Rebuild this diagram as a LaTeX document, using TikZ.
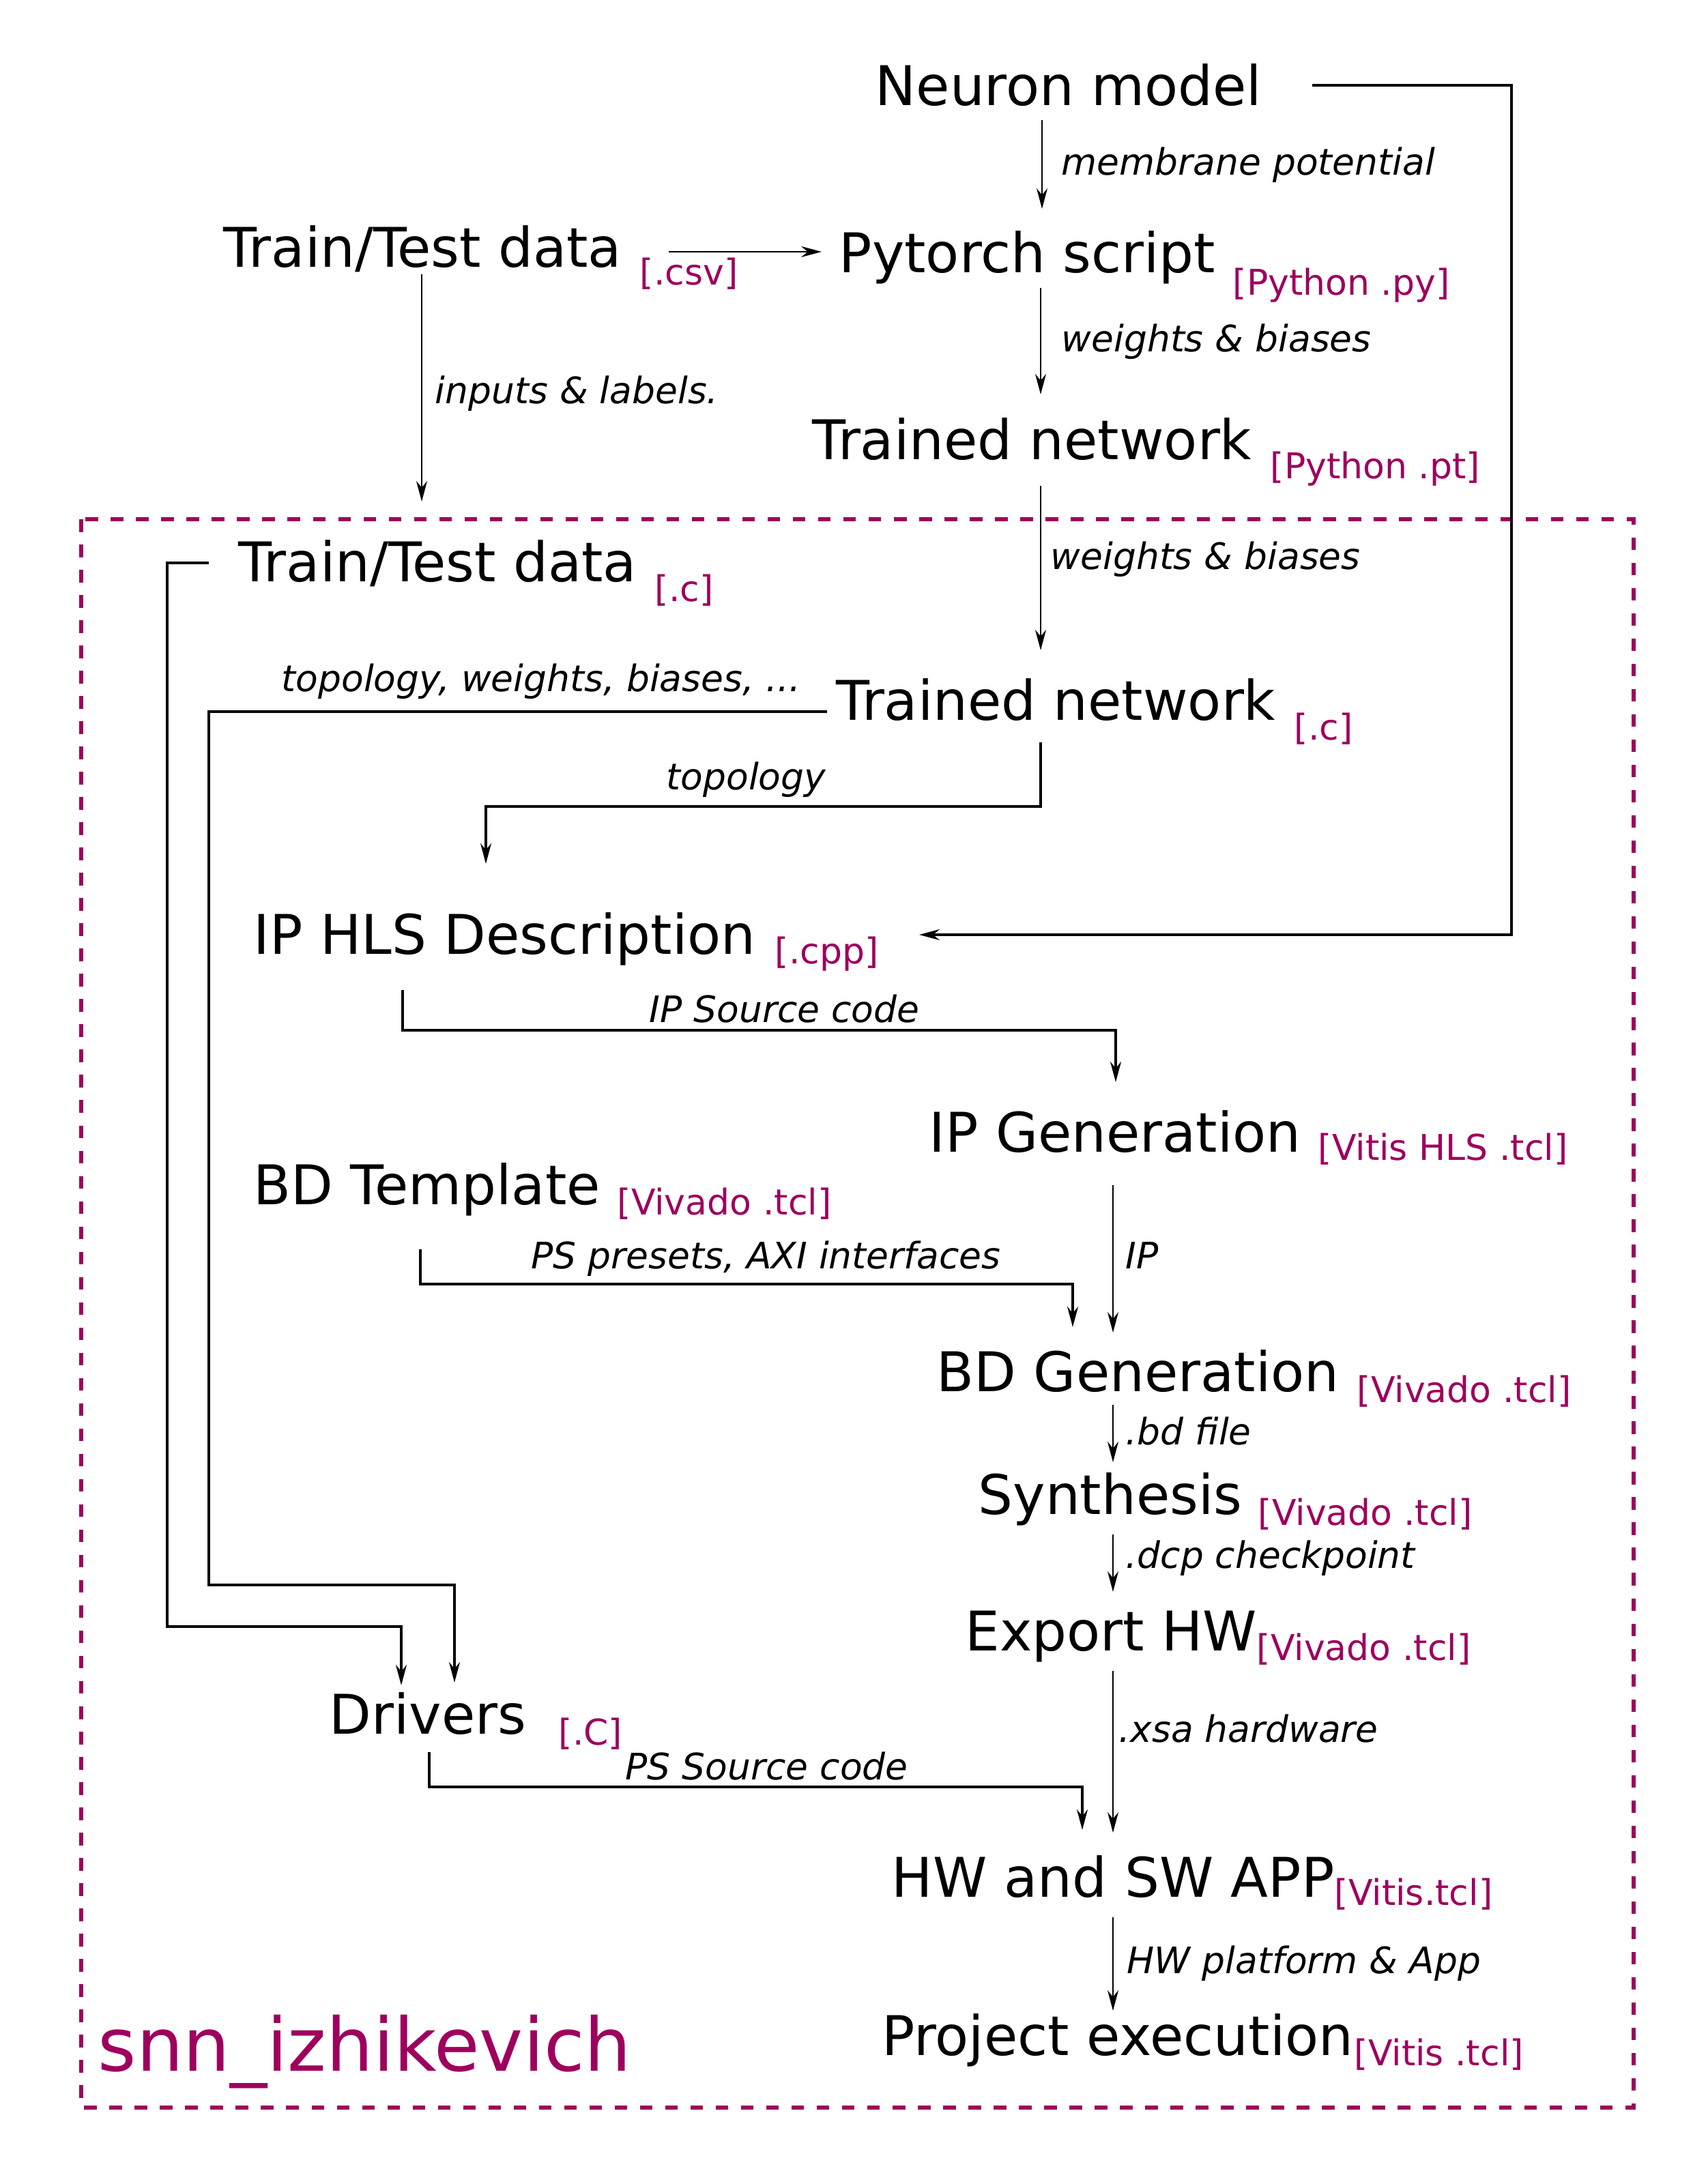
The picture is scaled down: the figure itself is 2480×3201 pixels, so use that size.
\documentclass[tikz,border=0pt]{standalone}
\usepackage{fontspec}
\setmainfont{DejaVu Sans}
\usetikzlibrary{arrows.meta}
\definecolor{snnpurple}{HTML}{9E005D}

\tikzset{
  stage/.style={anchor=base west, inner sep=0pt, font=\fontsize{22.8}{27}\selectfont},
  ftype/.style={anchor=base west, inner sep=0pt, text=snnpurple, font=\fontsize{14.8}{18}\selectfont},
  flow/.style={anchor=base west, inner sep=0pt, font=\fontsize{15.2}{18}\selectfont\itshape},
  arr/.style={line width=0.5pt, -{Stealth[length=0.3cm,width=0.16cm]}},
  wire/.style={line width=0.9pt, -{Stealth[length=0.3cm,width=0.16cm]}},
}

\begin{document}
\begin{tikzpicture}[x=0.01cm, y=-0.01cm]
  \useasboundingbox (0,0) rectangle (2480,3201);

  % progetto
  \draw[snnpurple, line width=0.065cm, dash pattern=on 0.185cm off 0.185cm]
    (119,761) rectangle (2394,3089);
  \node[anchor=base west, inner sep=0pt, text=snnpurple, font=\fontsize{30.8}{36}\selectfont]
    (prj) at (143,3035) {snn\_izhikevich};

  % parte software
  \node[stage] (neuron) at (1282,155) {Neuron model};
  \node[stage] (data) at (327,392) {Train/Test data};
  \node[ftype] (data-t) at (937,418) {[.csv]};
  \node[stage] (torch) at (1229,400) {Pytorch script};
  \node[ftype] (torch-t) at (1806,433) {[Python .py]};
  \node[stage] (net) at (1190,674) {Trained network};
  \node[ftype] (net-t) at (1861,702) {[Python .pt]};

  % parte hardware
  \node[stage] (cdata) at (349,853) {Train/Test data};
  \node[ftype] (cdata-t) at (959,882) {[.c]};
  \node[stage] (cnet) at (1225,1055) {Trained network};
  \node[ftype] (cnet-t) at (1896,1084) {[.c]};
  \node[stage] (hls) at (371,1398) {IP HLS Description};
  \node[ftype] (hls-t) at (1135,1412) {[.cpp]};
  \node[stage] (ipgen) at (1361,1688) {IP Generation};
  \node[ftype] (ipgen-t) at (1931,1700) {[Vitis HLS .tcl]};
  \node[stage] (bdt) at (371,1765) {BD Template};
  \node[ftype] (bdt-t) at (904,1780) {[Vivado .tcl]};
  \node[stage] (bdgen) at (1372,2039) {BD Generation};
  \node[ftype] (bdgen-t) at (1988,2055) {[Vivado .tcl]};
  \node[stage] (synth) at (1433,2219) {Synthesis};
  \node[ftype] (synth-t) at (1843,2235) {[Vivado .tcl]};
  \node[stage] (export) at (1414,2419) {Export HW};
  \node[ftype] (export-t) at (1841,2433) {[Vivado .tcl]};
  \node[stage] (drivers) at (482,2541) {Drivers};
  \node[ftype] (drivers-t) at (818,2557) {[.C]};
  \node[stage] (app) at (1306,2780) {HW and SW APP};
  \node[ftype] (app-t) at (1955,2792) {[Vitis.tcl]};
  \node[stage] (run) at (1292,3012) {Project execution};
  \node[ftype] (run-t) at (1984,3027) {[Vitis .tcl]};

  % etichette dei flussi
  \node[flow] (l-mem) at (1555,257) {membrane potential};
  \node[flow] (l-wb1) at (1555,516) {weights \& biases};
  \node[flow] (l-in) at (637,592) {inputs \& labels.};
  \node[flow] (l-wb2) at (1539,835) {weights \& biases};
  \node[flow] (l-twb) at (412,1014) {topology, weights, biases, ...};
  \node[flow] (l-top) at (976,1157) {topology};
  \node[flow] (l-src) at (951,1498) {IP Source code};
  \node[flow] (l-ip) at (1649,1859) {IP};
  \node[flow] (l-axi) at (778,1859) {PS presets, AXI interfaces};
  \node[flow] (l-bd) at (1649,2117) {.bd file};
  \node[flow] (l-dcp) at (1649,2298) {.dcp checkpoint};
  \node[flow] (l-xsa) at (1639,2553) {.xsa hardware};
  \node[flow] (l-ps) at (916,2608) {PS Source code};
  \node[flow] (l-hw) at (1651,2892) {HW platform \& App};

  % estremi dei collegamenti
  \coordinate (neuron-s) at (1527,176);
  \coordinate (neuron-e) at (1923,125);
  \coordinate (torch-n) at (1527,306);
  \coordinate (torch-w) at (1204,369);
  \coordinate (data-e) at (980,369);
  \coordinate (data-s) at (618,402);
  \coordinate (cdata-n) at (618,735);
  \coordinate (torch-s) at (1525,422);
  \coordinate (net-n) at (1525,578);
  \coordinate (net-s) at (1525,712);
  \coordinate (cnet-n) at (1525,953);
  \coordinate (cdata-w) at (306,825);
  \coordinate (cnet-w) at (1212,1043);
  \coordinate (cnet-s) at (1525,1088);
  \coordinate (hls-n) at (712,1266);
  \coordinate (hls-e) at (1347,1370);
  \coordinate (hls-s) at (590,1451);
  \coordinate (ipgen-n) at (1635,1586);
  \coordinate (ipgen-s) at (1631,1737);
  \coordinate (bdt-s) at (616,1831);
  \coordinate (bdgen-n) at (1631,1953);
  \coordinate (bdgen-m) at (1572,1945);
  \coordinate (bdgen-s) at (1631,2059);
  \coordinate (synth-n) at (1631,2143);
  \coordinate (synth-s) at (1631,2249);
  \coordinate (export-n) at (1631,2333);
  \coordinate (export-s) at (1631,2449);
  \coordinate (drv-n1) at (588,2470);
  \coordinate (drv-n2) at (666,2466);
  \coordinate (drv-s) at (629,2568);
  \coordinate (app-m) at (1586,2682);
  \coordinate (app-n) at (1631,2686);
  \coordinate (app-s) at (1631,2810);
  \coordinate (run-n) at (1631,2947);

  % frecce dritte
  \draw[arr] (neuron-s) -- (torch-n);
  \draw[arr] (data-e) -- (torch-w);
  \draw[arr] (torch-s) -- (net-n);
  \draw[arr] (data-s) -- (cdata-n);
  \draw[arr] (net-s) -- (cnet-n);
  \draw[arr] (ipgen-s) -- (bdgen-n);
  \draw[arr] (bdgen-s) -- (synth-n);
  \draw[arr] (synth-s) -- (export-n);
  \draw[arr] (export-s) -- (app-n);
  \draw[arr] (app-s) -- (run-n);

  % frecce con gomiti
  \draw[wire] (neuron-e) -- ++(292,0) |- (hls-e);
  \draw[wire] (cdata-w) -| (245,2384) -| (drv-n1);
  \draw[wire] (cnet-w) -| (306,2323) -| (drv-n2);
  \draw[wire] (cnet-s) -- ++(0,94) -| (hls-n);
  \draw[wire] (hls-s) -- ++(0,59) -| (ipgen-n);
  \draw[wire] (bdt-s) -- ++(0,51) -| (bdgen-m);
  \draw[wire] (drv-s) -- ++(0,51) -| (app-m);
\end{tikzpicture}
\end{document}
